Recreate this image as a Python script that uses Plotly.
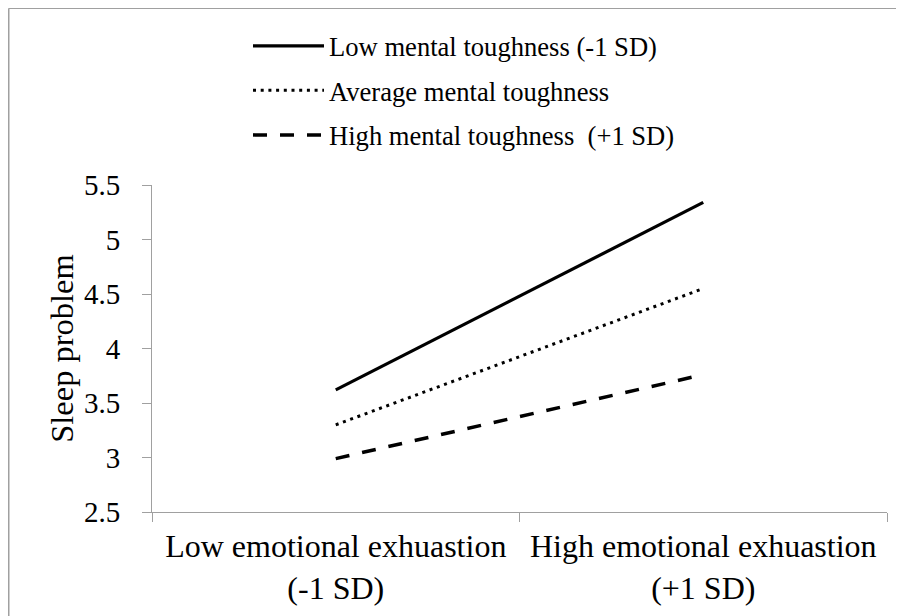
import plotly.graph_objects as go

categories = ["Low emotional exhuastion<br>(-1 SD)", "High emotional exhuastion<br>(+1 SD)"]
series_names = ["Low mental toughness (-1 SD)", "Average mental toughness", "High mental toughness  (+1 SD)"]
low_mt = [3.62, 5.34]
avg_mt = [3.30, 4.55]
high_mt = [2.99, 3.76]
y_ticks = [2.5, 3, 3.5, 4, 4.5, 5, 5.5]
y_tick_labels = ["2.5", "3", "3.5", "4", "4.5", "5", "5.5"]

FONT = "Liberation Serif"
AX = "#a0a0a0"
# the page body adds an 8px offset, so the figure is 8px smaller than the window
W, H = 896, 608
L, R, T, B = 144, 17, 177, 104
PW, PH = W - L - R, H - T - B

fig = go.Figure()
styles = [
    dict(width=3.2, dash="solid"),
    dict(width=3, dash="3px,4.7px"),
    dict(width=3.5, dash="14px,13px"),
]
for i, (name, vals) in enumerate(zip(series_names, [low_mt, avg_mt, high_mt])):
    fig.add_trace(go.Scatter(
        x=categories, y=vals, mode="lines", name=name,
        line=dict(color="black", **styles[i]),
        legendgroup=f"g{i}",
    ))

fig.update_layout(
    width=W, height=H,
    margin=dict(l=L, r=R, t=T, b=B, autoexpand=False),
    paper_bgcolor="white", plot_bgcolor="white",
    font=dict(family=FONT, color="black"),
    showlegend=True,
    legend=dict(
        xref="paper", yref="paper",
        x=(240 - L) / PW, y=1 + (T - 14) / PH, xanchor="left", yanchor="top",
        font=dict(family=FONT, size=26.6, color="black"),
        itemwidth=71, traceorder="grouped", tracegroupgap=7,
        bgcolor="rgba(0,0,0,0)",
    ),
    shapes=[
        dict(type="line", xref="paper", yref="paper",
             x0=(0.5 - L) / PW, x1=(0.5 - L) / PW, y0=-0.5, y1=1 + (T - 0.5) / PH,
             line=dict(color=AX, width=2), layer="below"),
        dict(type="line", xref="paper", yref="paper",
             x0=(0.5 - L) / PW, x1=1.2, y0=1 + (T - 0.5) / PH, y1=1 + (T - 0.5) / PH,
             line=dict(color=AX, width=1), layer="below"),
    ],
)
fig.update_xaxes(
    type="category", range=[-0.5, 1.5], tickson="boundaries",
    showline=True, linecolor=AX, linewidth=1,
    ticks="outside", ticklen=9, tickcolor=AX, tickwidth=1,
    showgrid=False, zeroline=False, tickangle=0,
    tickfont=dict(family=FONT, size=32, color="black"),
    ticklabelstandoff=6,
    fixedrange=True,
)
fig.update_yaxes(
    range=[2.5, 5.5], tickvals=y_ticks, ticktext=y_tick_labels,
    showline=True, linecolor=AX, linewidth=1,
    ticks="outside", ticklen=9, tickcolor=AX, tickwidth=1,
    showgrid=False, zeroline=False,
    tickfont=dict(family=FONT, size=29, color="black"),
    ticklabelstandoff=16,
    title=dict(text="Sleep problem", font=dict(family=FONT, size=32.5, color="black"), standoff=0),
    fixedrange=True,
)
fig.write_html("out.html")
